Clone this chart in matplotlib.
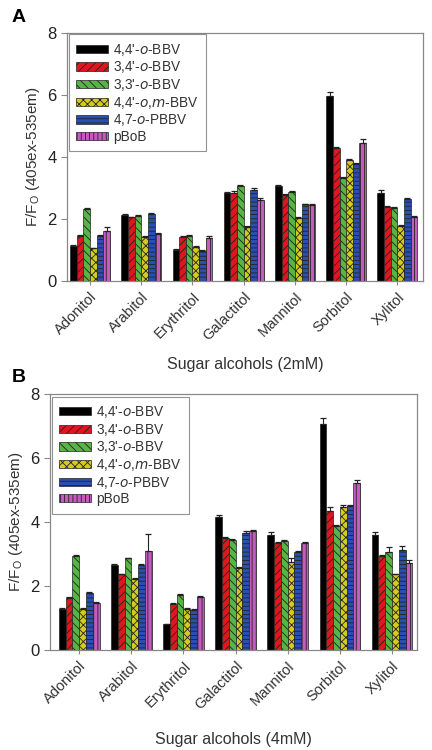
import matplotlib
matplotlib.use("Agg")
import matplotlib.pyplot as plt
import numpy as np

plt.rcParams['font.family'] = ['Liberation Sans', 'DejaVu Sans']
plt.rcParams['hatch.linewidth'] = 0.6

categories = ["Adonitol", "Arabitol", "Erythritol", "Galactitol", "Mannitol", "Sorbitol", "Xylitol"]
series = ["4,4'-$o$-BBV", "3,4'-$o$-BBV", "3,3'-$o$-BBV", "4,4'-$o$,$m$-BBV", "4,7-$o$-PBBV", "pBoB"]
colors = ["#000000", "#e0161e", "#58b444", "#d4cc1c", "#2a4fb4", "#c45cc0"]
hatches = [None, "////", "\\\\\\\\", "xxxx", "----", "||||"]

# Panel A (2 mM)
vals_a = [
    [1.14, 2.13, 1.00, 2.83, 3.06, 5.97, 2.85],
    [1.45, 2.05, 1.41, 2.83, 2.77, 4.30, 2.40],
    [2.31, 2.11, 1.45, 3.06, 2.88, 3.33, 2.37],
    [1.05, 1.42, 1.11, 1.73, 2.02, 3.90, 1.78],
    [1.45, 2.15, 0.96, 2.94, 2.47, 3.77, 2.63],
    [1.61, 1.51, 1.40, 2.61, 2.45, 4.44, 2.05],
]
err_a = [
    [0.03, 0.04, 0.02, 0.05, 0.04, 0.12, 0.07],
    [0.03, 0.03, 0.03, 0.08, 0.03, 0.03, 0.03],
    [0.03, 0.03, 0.03, 0.03, 0.03, 0.04, 0.03],
    [0.03, 0.03, 0.03, 0.03, 0.04, 0.04, 0.03],
    [0.03, 0.03, 0.03, 0.05, 0.03, 0.03, 0.06],
    [0.14, 0.03, 0.06, 0.08, 0.05, 0.14, 0.04],
]

# Panel B (4 mM)
vals_b = [
    [1.29, 2.66, 0.80, 4.17, 3.59, 7.05, 3.59],
    [1.61, 2.36, 1.43, 3.49, 3.33, 4.34, 2.95],
    [2.94, 2.86, 1.72, 3.44, 3.42, 3.88, 3.05],
    [1.27, 2.21, 1.27, 2.57, 2.74, 4.48, 2.36],
    [1.79, 2.66, 1.24, 3.67, 3.05, 4.51, 3.12],
    [1.48, 3.09, 1.65, 3.72, 3.33, 5.23, 2.73],
]
err_b = [
    [0.03, 0.03, 0.02, 0.04, 0.10, 0.20, 0.10],
    [0.05, 0.03, 0.03, 0.03, 0.03, 0.12, 0.03],
    [0.03, 0.03, 0.03, 0.03, 0.03, 0.04, 0.17],
    [0.03, 0.03, 0.03, 0.03, 0.15, 0.04, 0.03],
    [0.03, 0.03, 0.03, 0.05, 0.03, 0.03, 0.13],
    [0.03, 0.55, 0.05, 0.03, 0.03, 0.07, 0.07],
]

fig = plt.figure(figsize=(4.32, 7.5), dpi=100)
axA = fig.add_axes([67/432, 1-281/750, 356/432, 248/750])
axB = fig.add_axes([50/432, 1-650/750, 367/432, 256/750])

def draw(ax, vals, errs, xlabel, xlim, legend_bbox, labelpad):
    x = np.arange(len(categories))
    n = len(series)
    w = 0.13
    handles = []
    for i in range(n):
        pos = x + (i - (n-1)/2) * w
        b = ax.bar(pos, vals[i], width=w, color=colors[i], hatch=hatches[i],
                   edgecolor="#222222", linewidth=0.5, label=series[i], zorder=2)
        ax.errorbar(pos, vals[i], yerr=[np.zeros(len(categories)), errs[i]],
                    fmt="none", ecolor="#222222", elinewidth=0.8, capsize=2.0,
                    capthick=0.9, zorder=3)
        handles.append(b)
    ax.set_xlim(*xlim)
    ax.set_ylim(0, 8)
    ax.set_yticks([0, 2, 4, 6, 8])
    ax.set_xticks(x)
    ax.set_xticklabels(categories, rotation=45, ha="right", rotation_mode="anchor",
                       fontsize=10.5, color="#333333")
    ax.tick_params(axis="y", labelsize=12, direction="out", length=4, colors="#888888",
                   labelcolor="#222222")
    ax.tick_params(axis="x", direction="out", length=3, colors="#888888", labelcolor="#333333")
    for s in ax.spines.values():
        s.set_color("#888888")
        s.set_linewidth(0.9)
    ax.set_ylabel("F/F$_\\mathregular{O}$ (405ex-535em)", fontsize=11, color="#333333")
    ax.set_xlabel(xlabel, fontsize=11.5, color="#333333", labelpad=labelpad)
    leg = ax.legend(handles=handles, loc="upper left", bbox_to_anchor=legend_bbox,
                    fontsize=9.8, frameon=True, fancybox=False, handlelength=2.3,
                    handleheight=0.55, labelspacing=0.12, borderpad=0.55,
                    handletextpad=0.4, borderaxespad=0)
    leg.get_frame().set_edgecolor("#777777")
    leg.get_frame().set_linewidth(0.8)
    for t in leg.get_texts():
        t.set_color("#333333")

draw(axA, vals_a, err_a, "Sugar alcohols (2mM)", (-0.45, 6.5), (0.005, 0.995), 10)
draw(axB, vals_b, err_b, "Sugar alcohols (4mM)", (-0.56, 6.48), (0.005, 0.99), 14)

fig.text(12/432, 1-18/750, "A", fontsize=14, fontweight="bold", va="center")
fig.text(12/432, 1-378/750, "B", fontsize=14, fontweight="bold", va="center")

fig.savefig("out.png", dpi=100)
